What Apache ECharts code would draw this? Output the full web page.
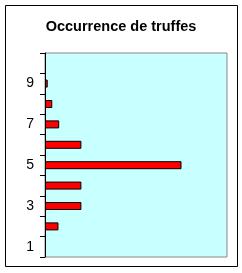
<!DOCTYPE html>
<html><head><meta charset="utf-8">
<script src="https://cdn.jsdelivr.net/npm/echarts@6/dist/echarts.min.js"></script>
<style>html,body{margin:0;padding:0;background:#fff}#c{width:242px;height:273px}</style>
</head><body><div id="c"></div>
<script>
const categories = ['1','2','3','4','5','6','7','8','9','10'];
const values = [0, 3.7, 10, 10, 37.5, 10, 3.9, 2, 0.75, 0];
const titleText = 'Occurrence de truffes';

const chart = echarts.init(document.getElementById('c'));
chart.setOption({
  animation: false,
  backgroundColor: '#fff',
  title: {
    text: titleText, left: 'center', top: 14,
    textStyle: {fontFamily: 'Liberation Sans, Arial', fontSize: 14.5, fontWeight: 'bold', color: '#000'}
  },
  graphic: [{
    type: 'rect', shape: {x: 5.5, y: 5.5, width: 232, height: 261},
    style: {fill: 'none', stroke: '#000', lineWidth: 1}, z: -1
  }],
  grid: {left: 45, top: 53, width: 182, height: 204, show: true,
    backgroundColor: '#c8ffff', borderColor: '#888', borderWidth: 1},
  xAxis: {type: 'value', min: 0, max: 50, show: false},
  yAxis: {
    type: 'category', data: categories, boundaryGap: true,
    axisLine: {show: true, lineStyle: {color: '#000', width: 1}},
    axisTick: {show: true, length: 5, interval: 0, lineStyle: {color: '#000'}},
    axisLabel: {interval: 1, color: '#000', fontSize: 14, fontFamily: 'Liberation Sans, Arial', margin: 11},
    splitLine: {show: false}
  },
  series: [{
    type: 'bar', data: values.map(v => v === 0 ? '-' : v), barWidth: 8,
    itemStyle: {color: '#ff0000', borderColor: '#000', borderWidth: 1}
  }]
});
</script></body></html>
